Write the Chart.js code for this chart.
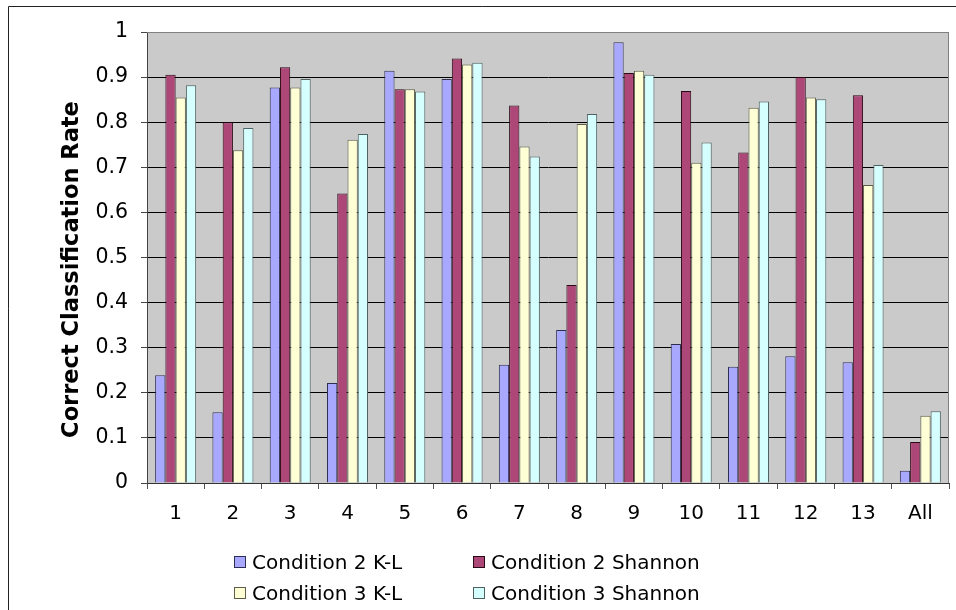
<!DOCTYPE html>
<html>
<head>
<meta charset="utf-8">
<script src="https://cdn.jsdelivr.net/npm/chart.js@4"></script>
<style>
  html, body { margin: 0; padding: 0; background: #fff; overflow: hidden; }
  #wrap { position: relative; width: 956px; height: 610px; }
  #c { position: absolute; left: 0; top: 0; }
  #legend { position: absolute; left: 234px; top: 546px; font-family: 'DejaVu Sans', Verdana, sans-serif; font-size: 20px; color: #000; }
  .item { position: absolute; display: flex; align-items: center; height: 31px; white-space: nowrap; }
  .box { width: 10px; height: 10px; border: 1px solid #000; margin-right: 6px; }
</style>
</head>
<body>
<div id="wrap">
  <canvas id="c" width="956" height="610"></canvas>
  <div id="legend"></div>
</div>
<script>
const categories = ['1','2','3','4','5','6','7','8','9','10','11','12','13','All'];
const seriesNames = ['Condition 2 K-L','Condition 2 Shannon','Condition 3 K-L','Condition 3 Shannon'];
const cond2KL      = [0.239,0.157,0.877,0.222,0.914,0.896,0.262,0.339,0.977,0.308,0.258,0.281,0.268,0.027];
const cond2Shannon = [0.905,0.800,0.922,0.642,0.873,0.941,0.837,0.439,0.909,0.869,0.733,0.900,0.860,0.091];
const cond3KL      = [0.855,0.738,0.877,0.761,0.873,0.928,0.746,0.796,0.914,0.710,0.832,0.855,0.661,0.149];
const cond3Shannon = [0.882,0.787,0.896,0.774,0.868,0.932,0.724,0.818,0.905,0.755,0.846,0.851,0.705,0.159];
const yTickLabels = ['0','0.1','0.2','0.3','0.4','0.5','0.6','0.7','0.8','0.9','1'];
const yTitle = 'Correct Classification Rate';

const fills   = ['#A8A8FF','#AD4778','#FFFFD5','#D5FFFF'];
const borders = ['#2E2E55','#2A0814','#5E5E48','#4E6262'];
const seriesValues = [cond2KL, cond2Shannon, cond3KL, cond3Shannon];

Chart.defaults.font.family = "'DejaVu Sans', Verdana, sans-serif";
Chart.defaults.color = '#000';

const framePlugin = {
  id: 'frame',
  beforeDraw(chart) {
    const {ctx, chartArea: a} = chart;
    ctx.save();
    ctx.fillStyle = '#fff';
    ctx.fillRect(0, 0, chart.width, chart.height);
    ctx.strokeStyle = '#222';
    ctx.lineWidth = 1;
    ctx.beginPath();
    ctx.moveTo(8.5, chart.height);
    ctx.lineTo(8.5, 6.5);
    ctx.lineTo(chart.width, 6.5);
    ctx.stroke();
    ctx.fillStyle = '#CACACA';
    ctx.fillRect(a.left, a.top, a.right - a.left, a.bottom - a.top);
    ctx.restore();
  },
  afterDatasetsDraw(chart) {
    const {ctx, chartArea: a} = chart;
    ctx.save();
    ctx.strokeStyle = '#808080';
    ctx.lineWidth = 1;
    ctx.beginPath();
    ctx.moveTo(a.left, a.top + 0.5);
    ctx.lineTo(a.right - 0.5, a.top + 0.5);
    ctx.lineTo(a.right - 0.5, a.bottom);
    ctx.stroke();
    ctx.restore();
  },
  afterDraw(chart) {
    const {ctx, chartArea: a} = chart;
    ctx.save();
    ctx.translate(72, (a.top + a.bottom) / 2 + 12);
    ctx.rotate(-Math.PI / 2);
    ctx.font = "bold 22.5px 'DejaVu Sans', Verdana, sans-serif";
    ctx.fillStyle = '#000';
    ctx.textAlign = 'center';
    ctx.textBaseline = 'middle';
    ctx.fillText(yTitle, 0, 0);
    ctx.restore();
  }
};

const chart = new Chart(document.getElementById('c'), {
  type: 'bar',
  data: {
    labels: categories,
    datasets: seriesNames.map((n, i) => ({
      label: n,
      data: seriesValues[i],
      backgroundColor: fills[i],
      borderColor: borders[i],
      borderWidth: 1,
      categoryPercentage: 0.716,
      barPercentage: 1.0
    }))
  },
  options: {
    responsive: false,
    animation: false,
    layout: { padding: { left: 0, top: 32, right: 7, bottom: 0 } },
    plugins: { legend: { display: false }, tooltip: { enabled: false } },
    scales: {
      x: {
        grid: { offset: true, drawOnChartArea: false, drawTicks: true, tickLength: 6, tickColor: '#555' },
        border: { color: '#333' },
        ticks: { font: { size: 20 }, padding: 13, maxRotation: 0, autoSkip: false },
        afterFit(s) { s.height = 127; }
      },
      y: {
        min: 0, max: 1,
        grid: { color: (c) => (c.tick && c.tick.value >= 0.999 ? '#808080' : '#000'), tickLength: 6, tickColor: '#444' },
        border: { color: '#444' },
        ticks: {
          stepSize: 0.1, font: { size: 20.5 }, padding: 13,
          callback: (v, i) => yTickLabels[i]
        },
        title: { display: false, text: yTitle },
        afterFit(s) { s.width = 147; }
      }
    }
  },
  plugins: [framePlugin]
});

const legend = document.getElementById('legend');
chart.data.datasets.forEach((ds, i) => {
  const item = document.createElement('div');
  item.className = 'item';
  item.style.left = (i % 2) * 239 + 'px';
  item.style.top = Math.floor(i / 2) * 31 + 'px';
  const box = document.createElement('span');
  box.className = 'box';
  box.style.background = ds.backgroundColor;
  box.style.borderColor = ds.borderColor;
  const txt = document.createElement('span');
  txt.textContent = ds.label;
  item.appendChild(box);
  item.appendChild(txt);
  legend.appendChild(item);
});
</script>
</body>
</html>
